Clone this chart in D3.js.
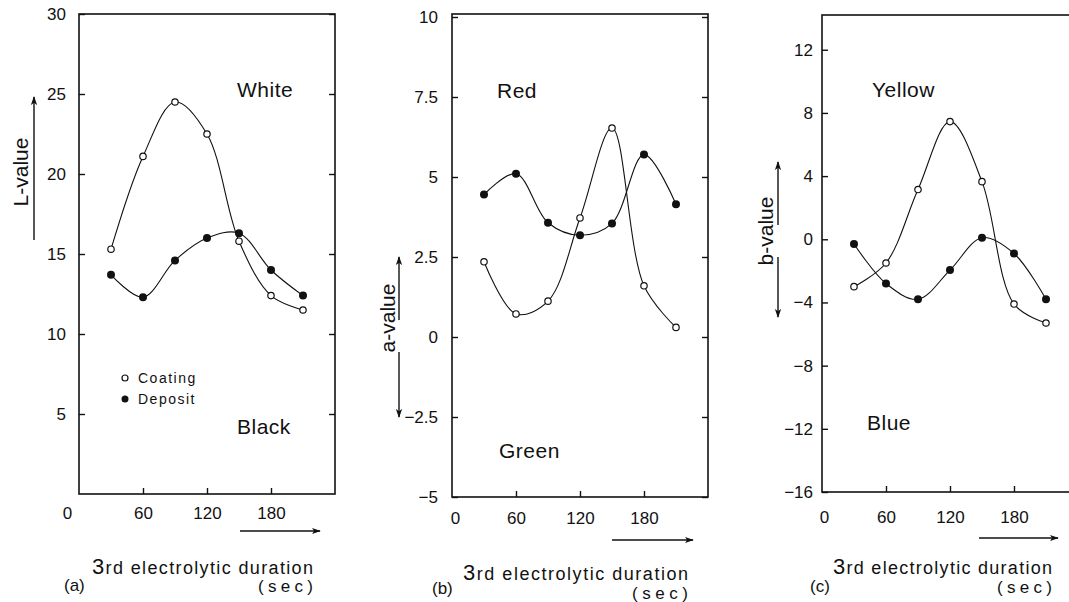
<!DOCTYPE html>
<html>
<head>
<meta charset="utf-8">
<script src="https://cdn.jsdelivr.net/npm/d3@7"></script>
<style>
  body { margin: 0; background: #fff; }
  svg { display: block; }
  text { font-family: "Liberation Sans", Arial, sans-serif; fill: #111; }
</style>
</head>
<body>
<svg id="chart" width="1069" height="602"></svg>
<script>
// electrolytic duration (sec) of each measured point
const durations = [30, 60, 90, 120, 150, 180, 210];

// (a) L-value
const lCoating = [15.3, 21.1, 24.5, 22.5, 15.8, 12.4, 11.5];
const lDeposit = [13.7, 12.3, 14.6, 16.0, 16.3, 14.0, 12.4];
// (b) a-value
const aCoating = [2.35, 0.72, 1.12, 3.72, 6.53, 1.6, 0.3];
const aDeposit = [4.45, 5.1, 3.57, 3.18, 3.55, 5.7, 4.15];
// (c) b-value
const bCoating = [-3.0, -1.5, 3.15, 7.45, 3.65, -4.1, -5.3];
const bDeposit = [-0.3, -2.8, -3.8, -1.95, 0.1, -0.9, -3.8];

const xTicks = [0, 60, 120, 180];
const lTicks = [5, 10, 15, 20, 25, 30];
const aTicks = [-5, -2.5, 0, 2.5, 5, 7.5, 10];
const bTicks = [-16, -12, -8, -4, 0, 4, 8, 12];

const svg = d3.select("#chart");

const defs = svg.append("defs");
defs.append("marker")
  .attr("id", "head")
  .attr("viewBox", "0 0 10 10")
  .attr("refX", 9).attr("refY", 5)
  .attr("markerWidth", 9).attr("markerHeight", 9)
  .attr("markerUnits", "userSpaceOnUse")
  .attr("orient", "auto")
  .append("path")
  .attr("d", "M0,1.5 L10,5 L0,8.5 L2.5,5 Z")
  .attr("fill", "#111");

const fmt = d => d < 0 ? "\u2212" + Math.abs(d) : String(d);

// layout of each panel (pixels)
const panels = [
  {
    coating: lCoating, deposit: lDeposit, yTicks: lTicks, yDomain: [0, 30],
    left: 79, top: 14, bottom: 494, yTop: 14, yPad: 13, xPad: 13, zeroDx: -12,
    title: "L-value", titleX: 20, titleY: 172,
    arrows: [[34, 240, 34, 97]],
    words: [["White", 237, 97], ["Black", 237, 434]],
    xArrow: [240, 320, 531],
    xlab: [92, 574, 221], sec: [258, 592, 55], tag: ["(a)", 64, 591],
    legend: true
  },
  {
    coating: aCoating, deposit: aDeposit, yTicks: aTicks, yDomain: [-5, 10],
    left: 452, top: 14, bottom: 497, yTop: 17, yPad: 14, xPad: 15, zeroDx: 3,
    title: "a-value", titleX: 387, titleY: 318,
    arrows: [[399, 320, 399, 257], [399, 352, 399, 417]],
    words: [["Red", 497, 98], ["Green", 499, 458]],
    xArrow: [612, 693, 540],
    xlab: [463, 580, 225], sec: [632, 599, 56], tag: ["(b)", 432, 594],
    legend: false
  },
  {
    coating: bCoating, deposit: bDeposit, yTicks: bTicks, yDomain: [-16, 14.2],
    left: 822, top: 15, bottom: 492, yTop: 15, yPad: 9, xPad: 19, zeroDx: 2,
    title: "b-value", titleX: 765, titleY: 231,
    arrows: [[778, 225, 778, 162], [778, 257, 778, 317]],
    words: [["Yellow", 872, 97], ["Blue", 867, 430]],
    xArrow: [979, 1058, 538],
    xlab: [833, 574, 219], sec: [997, 593, 55], tag: ["(c)", 810, 592],
    legend: false
  }
];

const plotWidth = 256;

panels.forEach(p => {
  const x = d3.scaleLinear().domain([0, 240]).range([p.left, p.left + plotWidth]);
  const y = d3.scaleLinear().domain(p.yDomain).range([p.bottom, p.yTop]);
  const g = svg.append("g");

  // frame
  g.append("rect")
    .attr("x", p.left).attr("y", p.top)
    .attr("width", plotWidth).attr("height", p.bottom - p.top)
    .attr("fill", "none").attr("stroke", "#111").attr("stroke-width", 1.6);

  // left axis, ticks pointing inward
  const ly = g.append("g")
    .attr("transform", `translate(${p.left},0)`)
    .call(d3.axisLeft(y).tickValues(p.yTicks).tickFormat(fmt)
      .tickSizeInner(-6).tickSizeOuter(0).tickPadding(p.yPad));
  ly.select(".domain").remove();
  ly.selectAll("text").style("font-size", "17px").attr("fill", "#111");
  ly.selectAll("line").attr("stroke", "#111").attr("stroke-width", 1.4);

  // right axis ticks
  const ry = g.append("g")
    .attr("transform", `translate(${p.left + plotWidth},0)`)
    .call(d3.axisRight(y).tickValues(p.yTicks).tickFormat("")
      .tickSizeInner(-6).tickSizeOuter(0));
  ry.select(".domain").remove();
  ry.selectAll("line").attr("stroke", "#111").attr("stroke-width", 1.4);

  // bottom axis
  const bx = g.append("g")
    .attr("transform", `translate(0,${p.bottom})`)
    .call(d3.axisBottom(x).tickValues(xTicks)
      .tickSizeInner(-6).tickSizeOuter(0).tickPadding(p.xPad));
  bx.select(".domain").remove();
  bx.selectAll("text").style("font-size", "17px").attr("fill", "#111")
    .attr("dx", d => d === 0 ? p.zeroDx : 0);
  bx.selectAll("line").attr("stroke", "#111").attr("stroke-width", 1.4)
    .attr("display", d => d === 0 ? "none" : null);

  // curves
  const line = d3.line()
    .x((d, i) => x(durations[i]))
    .y(d => y(d))
    .curve(d3.curveCatmullRom.alpha(0.5));

  [p.coating, p.deposit].forEach(s => {
    g.append("path").datum(s)
      .attr("d", line)
      .attr("fill", "none").attr("stroke", "#111").attr("stroke-width", 1.1);
  });

  g.selectAll(".open").data(p.coating).enter().append("circle")
    .attr("cx", (d, i) => x(durations[i])).attr("cy", d => y(d))
    .attr("r", 3.2).attr("fill", "#fff").attr("stroke", "#111").attr("stroke-width", 1.2);
  g.selectAll(".filled").data(p.deposit).enter().append("circle")
    .attr("cx", (d, i) => x(durations[i])).attr("cy", d => y(d))
    .attr("r", 4).attr("fill", "#111");

  // colour words
  p.words.forEach(w => {
    g.append("text").attr("x", w[1]).attr("y", w[2])
      .style("font-size", "21px").style("letter-spacing", "0.5px").text(w[0]);
  });

  // y title with arrows
  g.append("text")
    .attr("transform", `translate(${p.titleX},${p.titleY}) rotate(-90)`)
    .attr("text-anchor", "middle").attr("dominant-baseline", "central")
    .style("font-size", "21px").text(p.title);
  p.arrows.forEach(a => {
    g.append("line")
      .attr("x1", a[0]).attr("y1", a[1]).attr("x2", a[2]).attr("y2", a[3])
      .attr("stroke", "#111").attr("stroke-width", 1.4)
      .attr("marker-end", "url(#head)");
  });

  // x arrow and titles
  g.append("line")
    .attr("x1", p.xArrow[0]).attr("y1", p.xArrow[2])
    .attr("x2", p.xArrow[1]).attr("y2", p.xArrow[2])
    .attr("stroke", "#111").attr("stroke-width", 1.4)
    .attr("marker-end", "url(#head)");

  const xl = g.append("text")
    .attr("x", p.xlab[0]).attr("y", p.xlab[1])
    .attr("textLength", p.xlab[2]).attr("lengthAdjust", "spacing")
    .style("font-size", "18px");
  xl.append("tspan").style("font-size", "22px").text("3");
  xl.append("tspan").text("rd electrolytic duration");

  g.append("text").attr("x", p.sec[0]).attr("y", p.sec[1])
    .attr("textLength", p.sec[2]).attr("lengthAdjust", "spacing")
    .style("font-size", "17px").text("(sec)");
  g.append("text").attr("x", p.tag[1]).attr("y", p.tag[2])
    .style("font-size", "17px").text(p.tag[0]);

  if (p.legend) {
    const items = [["Coating", true, 378], ["Deposit", false, 399]];
    items.forEach(it => {
      g.append("circle").attr("cx", 125).attr("cy", it[2])
        .attr("r", it[1] ? 3 : 3.5)
        .attr("fill", it[1] ? "#fff" : "#111")
        .attr("stroke", "#111").attr("stroke-width", it[1] ? 1.2 : 0);
      g.append("text").attr("x", 138).attr("y", it[2] + 5)
        .style("font-size", "14px").style("letter-spacing", "1.5px").text(it[0]);
    });
  }
});
</script>
</body>
</html>
